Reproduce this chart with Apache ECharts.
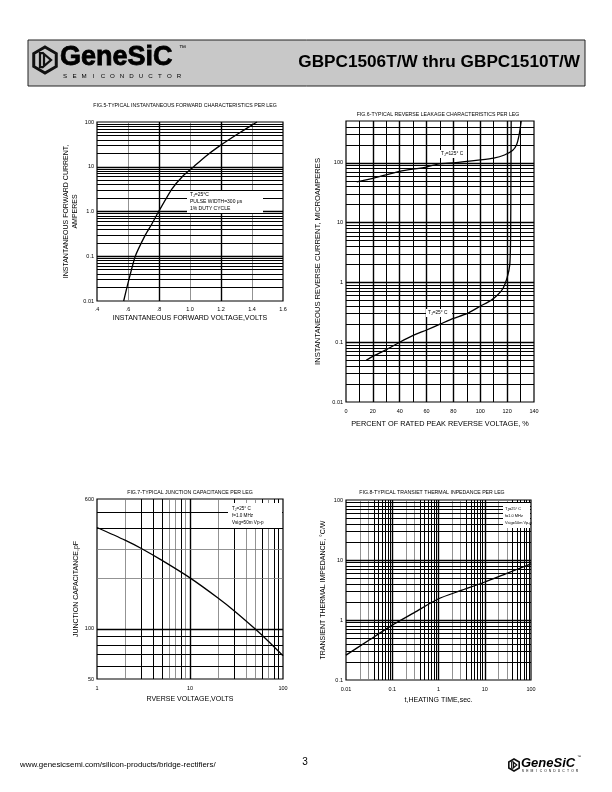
<!DOCTYPE html>
<html><head><meta charset="utf-8">
<script src="https://cdn.jsdelivr.net/npm/echarts@6/dist/echarts.min.js"></script>
<style>html,body{margin:0;padding:0;background:#fff}#c{width:612px;height:792px}</style>
</head><body><div id="c"></div><script>
const FONT = "'Liberation Sans', Arial, Helvetica, sans-serif";

// ---------- FIG.5 forward characteristics ----------
const fig5Volts = [0.572, 0.600, 0.647, 0.712, 0.750, 0.798, 0.884, 0.950, 1.024, 1.100, 1.196, 1.300, 1.432];
const fig5Amps  = [0.01, 0.025, 0.1, 0.3, 0.5, 1.0, 3.2, 6.0, 10, 17, 30, 52, 100];
const fig5XTicks = [0.4, 0.6, 0.8, 1.0, 1.2, 1.4, 1.6];
const fig5XLabels = ['.4', '.6', '.8', '1.0', '1.2', '1.4', '1.6'];
const fig5YTicks = [0.01, 0.1, 1, 10, 100];
const fig5YLabels = ['0.01', '0.1', '1.0', '10', '100'];

// ---------- FIG.6 reverse leakage ----------
const fig6HotPct = [8, 20, 40, 60, 70, 80, 100, 110, 118, 124, 127, 129, 130.5];
const fig6HotUA  = [48, 55, 72, 85, 97, 100, 112, 120, 135, 160, 200, 300, 500];
const fig6ColdPct = [15, 20, 30, 40, 50, 60, 70, 80, 90, 100, 108, 113, 117, 120, 122, 122.6, 122.8, 123];
const fig6ColdUA  = [0.05, 0.058, 0.075, 0.1, 0.13, 0.16, 0.2, 0.25, 0.3, 0.4, 0.5, 0.62, 0.8, 1.2, 2, 6, 50, 500];
const fig6XTicks = [0, 20, 40, 60, 80, 100, 120, 140];
const fig6XLabels = ['0', '20', '40', '60', '80', '100', '120', '140'];
const fig6YTicks = [0.01, 0.1, 1, 10, 100];
const fig6YLabels = ['0.01', '0.1', '1', '10', '100'];

// ---------- FIG.7 junction capacitance ----------
const fig7Volts = [1, 2, 3, 5, 10, 20, 30, 50, 70, 100];
const fig7pF    = [405, 340, 303, 257, 202, 153, 128, 100, 84, 69];
const fig7XTicks = [1, 10, 100];
const fig7XLabels = ['1', '10', '100'];
const fig7YTicks = [50, 100, 600];
const fig7YLabels = ['50', '100', '600'];

// ---------- FIG.8 transient thermal impedance ----------
const fig8Sec = [0.01, 0.03, 0.1, 0.3, 1, 3, 10, 30, 100];
const fig8CW  = [0.26, 0.45, 0.82, 1.33, 2.26, 3.08, 4.3, 6.0, 8.6];
const fig8XTicks = [0.01, 0.1, 1, 10, 100];
const fig8XLabels = ['0.01', '0.1', '1', '10', '100'];
const fig8YTicks = [0.1, 1, 10, 100];
const fig8YLabels = ['0.1', '1', '10', '100'];

function labelFor(ticks, labels, isLog) {
  return function (v) {
    for (let i = 0; i < ticks.length; i++) {
      const a = isLog ? Math.log10(v) : v;
      const b = isLog ? Math.log10(ticks[i]) : ticks[i];
      if (Math.abs(a - b) < 1e-6) return labels[i];
    }
    return '';
  };
}
function logMinor(min, max) {
  const out = [];
  for (let e = Math.floor(Math.log10(min)); e <= Math.ceil(Math.log10(max)); e++) {
    for (let k = 1; k < 10; k++) {
      const v = +(k * Math.pow(10, e)).toPrecision(6);
      if (v > min * 1.0001 && v < max * 0.9999) out.push({ v: v, k: k });
    }
  }
  return out;
}
const BLK = { type: 'solid', color: '#000', width: 1 };
const BLK_T = { type: 'solid', color: '#000', width: 1.4 };
const GRY = { type: 'solid', color: '#777', width: 0.8 };

function axis(o) {
  const lab = Object.assign({ fontSize: 5.5, color: '#000', fontFamily: FONT, margin: 4, showMinLabel: true, showMaxLabel: true, hideOverlap: false }, o.label || {});
  const a = {
    gridIndex: o.grid, type: o.type, min: o.min, max: o.max,
    axisLine: { show: false }, axisTick: { show: false }, splitLine: { show: false },
    minorTick: { show: false }, minorSplitLine: { show: false },
    axisLabel: Object.assign(lab, { formatter: labelFor(o.ticks, o.labels, o.type === 'log') }),
    name: o.name, nameLocation: 'middle', nameGap: o.gap,
    nameTextStyle: { fontSize: o.nameSize || 7, color: '#000', fontFamily: FONT, lineHeight: o.lh || 9 }
  };
  if (o.interval != null) a.interval = o.interval;
  if (o.rotate) a.nameRotate = o.rotate;
  if (o.type === 'log') a.logBase = 10;
  return a;
}

const grids = [
  { left: 97, top: 122, width: 186, height: 179 },
  { left: 346, top: 121, width: 188, height: 281 },
  { left: 97, top: 499, width: 186, height: 180 },
  { left: 346, top: 500, width: 185, height: 180 }
].map(g => Object.assign({ show: true, borderColor: '#000', borderWidth: 1.2, backgroundColor: '#fff', containLabel: false, outerBoundsMode: 'none' }, g));

const xAxes = [
  axis({ grid: 0, type: 'value', min: 0.4, max: 1.6, interval: 0.2, ticks: fig5XTicks, labels: fig5XLabels, label: { margin: 5 },
    name: 'INSTANTANEOUS FORWARD VOLTAGE,VOLTS', gap: 13 }),
  axis({ grid: 1, type: 'value', min: 0, max: 140, interval: 20, ticks: fig6XTicks, labels: fig6XLabels, label: { margin: 6 },
    name: 'PERCENT OF RATED PEAK REVERSE VOLTAGE, %', gap: 17, nameSize: 7.3 }),
  axis({ grid: 2, type: 'log', min: 1, max: 100, ticks: fig7XTicks, labels: fig7XLabels, label: { margin: 6 },
    name: 'RVERSE VOLTAGE,VOLTS', gap: 16 }),
  axis({ grid: 3, type: 'log', min: 0.01, max: 100, ticks: fig8XTicks, labels: fig8XLabels, label: { margin: 6 },
    name: 't,HEATING TIME,sec.', gap: 16 })
];
const yAxes = [
  axis({ grid: 0, type: 'log', min: 0.01, max: 100, ticks: fig5YTicks, labels: fig5YLabels, label: { margin: 3 },
    name: 'INSTANTANEOUS FORWARD CURRENT,\nAMPERES', gap: 9, rotate: 90 }),
  axis({ grid: 1, type: 'log', min: 0.01, max: 500, ticks: fig6YTicks, labels: fig6YLabels, label: { margin: 3 },
    name: 'INSTANTANEOUS REVERSE CURRENT, MICROAMPERES', gap: 24, rotate: 90, nameSize: 7.6 }),
  axis({ grid: 2, type: 'log', min: 50, max: 600, ticks: fig7YTicks, labels: fig7YLabels, label: { margin: 3 },
    name: 'JUNCTION CAPACITANCE,pF', gap: 16, rotate: 90 }),
  axis({ grid: 3, type: 'log', min: 0.1, max: 100, ticks: fig8YTicks, labels: fig8YLabels, label: { margin: 3 },
    name: 'TRANSIENT THERMAL IMPEDANCE, \u00B0C/W', gap: 18, rotate: 90 })
];

function curve(i, xs, ys, sm) {
  return { type: 'line', xAxisIndex: i, yAxisIndex: i, data: xs.map((x, j) => [x, ys[j]]),
    showSymbol: false, symbol: 'none', smooth: sm, lineStyle: { color: '#000', width: 1.3 },
    itemStyle: { color: '#000' }, z: 3, silent: true, animation: false };
}
function gridLines(i, vLines, hLines) {
  const data = vLines.map(l => ({ xAxis: l[0], lineStyle: l[1] }))
    .concat(hLines.map(l => ({ yAxis: l[0], lineStyle: l[1] })));
  return { type: 'line', xAxisIndex: i, yAxisIndex: i, data: [], silent: true, animation: false, z: 1,
    markLine: { silent: true, symbol: ['none', 'none'], label: { show: false }, animation: false, z: 1,
      emphasis: { disabled: true }, lineStyle: BLK, data: data } };
}

const g1V = [[0.6, GRY], [0.8, BLK_T], [1.0, GRY], [1.2, BLK_T], [1.4, GRY]];
const g1H = logMinor(0.01, 100).map(o => [o.v, o.k === 1 ? BLK_T : BLK]);
const g2V = [10, 20, 30, 40, 50, 60, 70, 80, 90, 100, 110, 120, 130].map(v => [v, v % 20 === 0 ? BLK_T : BLK]);
const g2H = logMinor(0.01, 500).map(o => [o.v, o.k === 1 ? BLK_T : BLK]);
const g3Gray = [2, 6, 7, 9, 20, 40, 50, 70];
const g3V = logMinor(1, 100).map(o => [o.v, o.k === 1 ? BLK_T : (g3Gray.indexOf(o.v) >= 0 ? GRY : BLK)]);
const g3H = logMinor(50, 600).map(o => [o.v, o.v === 100 ? BLK_T : ((o.v === 200 || o.v === 300) ? GRY : BLK)]);
const g4V = logMinor(0.01, 100).map(o => [o.v, o.k === 1 ? BLK_T : ((o.k === 2 || o.k === 3) ? GRY : BLK)]);
const g4H = logMinor(0.1, 100).map(o => [o.v, o.k === 1 ? BLK_T : BLK]);

const series = [
  gridLines(0, g1V, g1H), gridLines(1, g2V, g2H), gridLines(2, g3V, g3H), gridLines(3, g4V, g4H),
  curve(0, fig5Volts, fig5Amps, 0.2),
  curve(1, fig6HotPct, fig6HotUA, 0.2),
  curve(1, fig6ColdPct, fig6ColdUA, 0.2),
  curve(2, fig7Volts, fig7pF, 0.25),
  curve(3, fig8Sec, fig8CW, 0.25)
];

// ---------- graphic (page decorations, titles, notes) ----------
function txt(x, y, text, size, opts) {
  opts = opts || {};
  const font = (opts.style || '') + ' ' + (opts.weight || 'normal') + ' ' + size + 'px ' + FONT;
  const st = { text: text, font: font, fill: opts.fill || '#000',
    align: opts.align || 'left', textAlign: opts.align || 'left',
    verticalAlign: 'middle', textVerticalAlign: 'middle', rich: opts.rich };
  if (opts.stroke) { st.stroke = opts.stroke; st.lineWidth = opts.lw || 0.6; }
  return { type: 'text', x: x, y: y, z: opts.z || 100, silent: true, style: st };
}
function whiteBox(x, y, w, h) {
  return { type: 'rect', z: 90, silent: true, shape: { x: x, y: y, width: w, height: h }, style: { fill: '#fff' } };
}
function hexIcon(cx, cy, r, lw) {
  const pts = [];
  for (let k = 0; k < 6; k++) {
    const a = Math.PI / 180 * (60 * k - 90);
    pts.push([cx + r * Math.cos(a), cy + r * Math.sin(a)]);
  }
  const s = r / 13;
  return [
    { type: 'polygon', z: 101, silent: true, shape: { points: pts }, style: { fill: 'none', stroke: '#111', lineWidth: lw } },
    { type: 'polyline', z: 101, silent: true,
      shape: { points: [[cx - 2 * s, cy - 7 * s], [cx - 5 * s, cy - 7 * s], [cx - 5 * s, cy + 7 * s], [cx - 2 * s, cy + 7 * s]] },
      style: { fill: 'none', stroke: '#111', lineWidth: lw * 0.75 } },
    { type: 'polygon', z: 101, silent: true,
      shape: { points: [[cx - 1 * s, cy - 6 * s], [cx + 6 * s, cy], [cx - 1 * s, cy + 6 * s]] },
      style: { fill: 'none', stroke: '#111', lineWidth: lw * 0.75 } }
  ];
}
const semi = 'SEMICONDUCTOR';
const graphics = [];
// header
graphics.push({ type: 'rect', z: 95, silent: true, shape: { x: 28, y: 40, width: 557, height: 46 },
  style: { fill: '#c8c8c8', stroke: '#222', lineWidth: 1 } });
hexIcon(45, 60, 13, 3).forEach(e => graphics.push(e));
graphics.push(txt(60, 58, 'GeneSiC', 27, { weight: 'bold', stroke: '#000', lw: 0.8 }));
graphics.push(txt(179, 48, '\u2122', 7));
for (let i = 0; i < semi.length; i++) graphics.push(txt(65 + i * 9.5, 76, semi[i], 6.2, { align: 'center' }));
graphics.push(txt(580, 62, 'GBPC1506T/W thru GBPC1510T/W', 17.2, { weight: 'bold', align: 'right' }));
// footer
graphics.push(txt(20, 765, 'www.genesicsemi.com/silicon-products/bridge-rectifiers/', 7.9));
graphics.push(txt(305, 762, '3', 10, { align: 'center' }));
hexIcon(514, 765, 6, 1.6).forEach(e => graphics.push(e));
graphics.push(txt(521, 763, 'GeneSiC', 13, { weight: 'bold', style: 'italic' }));
graphics.push(txt(577, 757, '\u2122', 4));
for (let i = 0; i < semi.length; i++) graphics.push(txt(523 + i * 4.5, 771.5, semi[i], 3.4, { align: 'center' }));
// chart titles
graphics.push(txt(185, 106, 'FIG.5-TYPICAL INSTANTANEOUS FORWARD CHARACTERISTICS PER LEG', 5.2, { align: 'center' }));
graphics.push(txt(438, 115, 'FIG.6-TYPICAL REVERSE LEAKAGE CHARACTERISTICS PER LEG', 5.2, { align: 'center' }));
graphics.push(txt(190, 493, 'FIG.7-TYPICAL JUNCTION CAPACITANCE PER LEG', 5.2, { align: 'center' }));
graphics.push(txt(432, 493, 'FIG.8-TYPICAL TRANSIET THERMAL INPEDANCE PER LEG', 5.2, { align: 'center' }));
// notes
const sub = { s: { fontSize: 3.4, fontFamily: FONT, fill: '#000', verticalAlign: 'bottom', padding: [3, 0, 0, 0] } };
graphics.push(whiteBox(187, 191, 76, 22));
graphics.push(txt(190, 195, 'T{s|J}=25\u00B0C', 5, { rich: sub, z: 101 }));
graphics.push(txt(190, 202, 'PULSE WIDTH=300 \u03BCs', 5, { z: 101 }));
graphics.push(txt(190, 209, '1% DUTY CYCLE', 5, { z: 101 }));
graphics.push(whiteBox(439, 150, 27, 8));
graphics.push(txt(441, 154, 'T{s|J}=125\u00B0 C', 4.8, { rich: sub, z: 101 }));
graphics.push(whiteBox(426, 309, 26, 8));
graphics.push(txt(428, 313, 'T{s|J}=25\u00B0 C', 4.8, { rich: sub, z: 101 }));
graphics.push(whiteBox(228, 503, 54, 25));
graphics.push(txt(232, 509, 'T{s|J}=25\u00B0 C', 4.6, { rich: sub, z: 101 }));
graphics.push(txt(232, 516, 'f=1.0 MHz', 4.6, { z: 101 }));
graphics.push(txt(232, 523, 'Vsig=50m Vp-p', 4.6, { z: 101 }));
graphics.push(whiteBox(503, 503, 27, 25));
graphics.push(txt(505, 509, 'T{s|J}=25\u00B0 C', 3.9, { rich: sub, z: 101 }));
graphics.push(txt(505, 516, 'f=1.0 MHz', 3.9, { z: 101 }));
graphics.push(txt(505, 523, 'Vsig=50m Vp-p', 3.9, { z: 101 }));

const chart = echarts.init(document.getElementById('c'), null, { renderer: 'canvas', width: 612, height: 792 });
chart.setOption({
  animation: false,
  backgroundColor: '#fff',
  grid: grids,
  xAxis: xAxes,
  yAxis: yAxes,
  series: series,
  graphic: { elements: graphics }
});
</script></body></html>
